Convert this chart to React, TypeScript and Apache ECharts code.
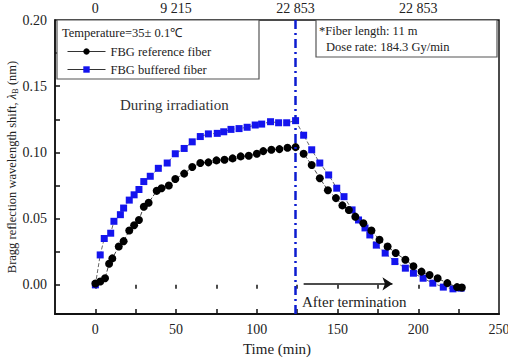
import React, { useEffect, useRef } from "react";
import * as echarts from "echarts";

// Reference fiber (black circles)
const refTime = [0, 3, 6, 8.5, 10.5, 14.5, 17.5, 21, 24, 27, 30, 33, 38, 41, 45.5, 49.5, 55, 60, 65, 70, 75, 80, 85, 90, 95, 100, 104, 109, 114, 119, 124, 129, 134, 139, 144, 149, 153, 157, 161, 166, 171, 176, 181, 186, 192, 197, 202, 207, 212, 218, 224, 227];
const refShift = [0.001, 0.0025, 0.005, 0.016, 0.02, 0.029, 0.033, 0.041, 0.045, 0.049, 0.059, 0.062, 0.071, 0.073, 0.075, 0.08, 0.084, 0.089, 0.092, 0.0925, 0.094, 0.0945, 0.0955, 0.097, 0.0975, 0.099, 0.101, 0.102, 0.1025, 0.1035, 0.104, 0.099, 0.0905, 0.0805, 0.0715, 0.0655, 0.06, 0.0565, 0.0515, 0.0465, 0.041, 0.034, 0.029, 0.024, 0.019, 0.014, 0.01, 0.0075, 0.005, 0.0013, -0.0017, -0.002];

// Buffered fiber (blue squares)
const bufTime = [0, 3, 5.5, 9.5, 11.5, 15.5, 17.5, 21, 24, 27, 30, 34, 39, 44.5, 49.5, 55, 60, 65, 70, 75.5, 79.5, 84, 89, 94, 99, 103, 108.5, 113.5, 118.5, 124, 129, 134, 139, 144.5, 149.5, 154, 159, 163, 167, 170, 174, 179.5, 185.5, 192, 197, 203, 209, 215.5, 221.5, 226.5];
const bufShift = [0, 0.0226, 0.035, 0.039, 0.048, 0.053, 0.058, 0.064, 0.068, 0.072, 0.078, 0.082, 0.088, 0.092, 0.099, 0.103, 0.108, 0.112, 0.114, 0.1144, 0.1156, 0.1174, 0.118, 0.119, 0.1207, 0.1214, 0.1232, 0.1224, 0.1224, 0.124, 0.113, 0.102, 0.092, 0.083, 0.073, 0.0666, 0.0566, 0.049, 0.043, 0.0377, 0.03, 0.024, 0.0176, 0.0126, 0.0088, 0.005, 0.0013, -0.0017, -0.003, -0.0025];

const xTicks = [0, 25, 50, 75, 100, 125, 150, 175, 200, 225];
const xLabels = [0, 50, 100, 150, 200, 250];
const yTicks = [0, 0.025, 0.05, 0.075, 0.1, 0.125, 0.15, 0.175];
const yLabels = [0, 0.05, 0.1, 0.15, 0.2];
const doseTimes = [0, 50, 124, 200];
const doseLabels = ["0", "9 215", "22 853", "22 853"];
const terminationTime = 124;

const FONT = "'Liberation Serif', 'Times New Roman', serif";
const BLUE = "#1414ee";

export default function App() {
  const ref = useRef<HTMLDivElement>(null);
  useEffect(() => {
    if (!ref.current) return;
    const chart = echarts.init(ref.current, null, { renderer: "svg" });
    const txt = { fontFamily: FONT, color: "#222" };
    chart.setOption({
      animation: false,
      grid: {
        left: 55, right: 9, top: 20, bottom: 45,
        containLabel: false, outerBoundsMode: "none",
        show: true, borderColor: "#111", borderWidth: 1.5,
      },
      legend: {
        orient: "vertical",
        left: 62,
        top: 40,
        itemGap: 5,
        itemWidth: 38,
        itemHeight: 8,
        lineStyle: { type: "solid", color: "#333", width: 1 },
        textStyle: { ...txt, fontSize: 12.5 },
        data: ["FBG reference fiber", "FBG buffered fiber"],
      },
      xAxis: [
        {
          type: "value",
          min: -25,
          max: 250,
          name: "Time (min)",
          nameLocation: "middle",
          nameGap: 27,
          nameTextStyle: { ...txt, fontSize: 15 },
          splitLine: { show: false },
          axisLine: { show: true, onZero: false, lineStyle: { color: "#111", width: 2 } },
          axisTick: { show: true, inside: true, length: 5, customValues: xTicks, lineStyle: { color: "#111", width: 1.5 } },
          axisLabel: { customValues: xLabels, ...txt, fontSize: 14, margin: 8, formatter: (v: number) => String(v) },
        },
        {
          type: "value",
          position: "top",
          min: -25,
          max: 250,
          splitLine: { show: false },
          axisLine: { show: false },
          axisTick: { show: true, inside: true, length: 4, customValues: xTicks, lineStyle: { color: "#111", width: 1.5 } },
          axisLabel: {
            customValues: doseTimes,
            ...txt,
            fontSize: 14,
            margin: 5,
            formatter: (v: number) => doseLabels[doseTimes.indexOf(v)] ?? "",
          },
        },
      ],
      yAxis: {
        type: "value",
        min: -0.022,
        max: 0.2,
        splitLine: { show: false },
        axisLine: { show: true, onZero: false, lineStyle: { color: "#111", width: 1.5 } },
        axisTick: { show: true, inside: true, length: 5, customValues: yTicks, lineStyle: { color: "#111", width: 1.5 } },
        axisLabel: { customValues: yLabels, ...txt, fontSize: 14, margin: 8, formatter: (v: number) => v.toFixed(2) },
      },
      series: [
        {
          name: "FBG buffered fiber",
          type: "line",
          data: bufTime.map((t, i) => [t, bufShift[i]]),
          symbol: "rect",
          symbolSize: 7,
          itemStyle: { color: BLUE },
          lineStyle: { color: "#666", width: 1, type: "dashed" },
          z: 2,
          markLine: {
            silent: true,
            symbol: "none",
            label: { show: false },
            lineStyle: { color: "#0c1cd0", width: 2.5, type: [9, 4, 2, 4] },
            data: [{ xAxis: terminationTime }],
          },
        },
        {
          name: "FBG reference fiber",
          type: "line",
          data: refTime.map((t, i) => [t, refShift[i]]),
          symbol: "circle",
          symbolSize: 8,
          itemStyle: { color: "#000" },
          lineStyle: { color: "#444", width: 1, type: "dashed" },
          z: 3,
          markLine: {
            silent: true,
            symbol: ["none", "arrow"],
            symbolSize: 10,
            label: { show: false },
            lineStyle: { color: "#111", width: 1.5, type: "solid" },
            data: [[{ coord: [129, 0.0008] }, { coord: [184, 0.0008] }]],
          },
        },
      ],
      graphic: [
        {
          type: "text",
          z: 5,
          x: 12,
          y: 167,
          rotation: Math.PI / 2,
          style: {
            text: "{a|Bragg reflection wavelength shift, }{l|λ}{s|B}{a| (nm)}",
            align: "center",
            verticalAlign: "middle",
            rich: {
              a: { fontFamily: FONT, fontSize: 12.5, fill: "#222" },
              l: { fontFamily: FONT, fontSize: 12.5, fill: "#222", fontStyle: "italic" },
              s: { fontFamily: FONT, fontSize: 8.5, fill: "#222", verticalAlign: "bottom", padding: [5, 0, 0, 0] },
            },
          },
        },
        { type: "rect", z: 1, shape: { x: 57, y: 20, width: 202, height: 59 }, style: { fill: "#fff", stroke: "#555", lineWidth: 1.2 } },
        { type: "text", z: 5, x: 62, y: 33, style: { text: "Temperature=35± 0.1℃", font: `12.5px ${FONT}`, fill: "#222", verticalAlign: "middle" } },
        { type: "rect", z: 1, shape: { x: 316, y: 20, width: 181, height: 37 }, style: { fill: "#fff", stroke: "#555", lineWidth: 1.2 } },
        { type: "text", z: 5, x: 319, y: 31, style: { text: "*Fiber length: 11 m", font: `12.5px ${FONT}`, fill: "#222", verticalAlign: "middle" } },
        { type: "text", z: 5, x: 326, y: 47, style: { text: "Dose rate: 184.3 Gy/min", font: `12.5px ${FONT}`, fill: "#222", verticalAlign: "middle" } },
        { type: "text", z: 5, x: 120, y: 105, style: { text: "During irradiation", font: `15px ${FONT}`, fill: "#333", verticalAlign: "middle" } },
        { type: "text", z: 5, x: 302, y: 302, style: { text: "After termination", font: `15px ${FONT}`, fill: "#222", verticalAlign: "middle" } },
      ],
    });
    return () => chart.dispose();
  }, []);
  return <div ref={ref} style={{ position: "fixed", left: 0, top: 0, width: 508, height: 359, background: "#fff" }} />;
}
